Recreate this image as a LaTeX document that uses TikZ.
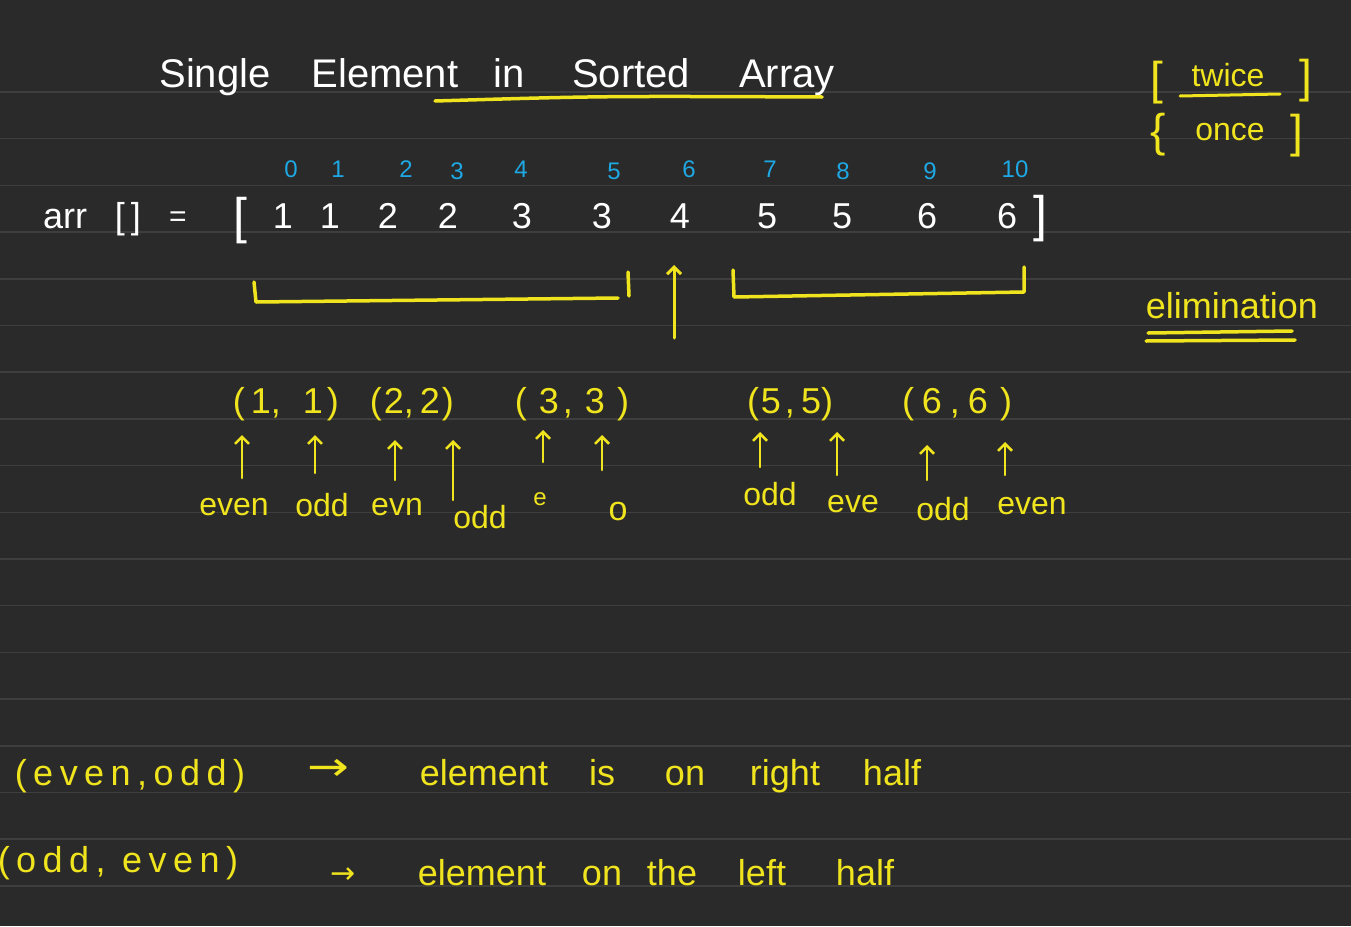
\documentclass[tikz,border=0pt]{standalone}
\usepackage{fontspec}
\setmainfont{Liberation Sans}
\newfontfamily\widefont[LetterSpace=18]{Liberation Sans}
\newfontfamily\arrowfont{DejaVu Sans}
\usetikzlibrary{arrows.meta}
\definecolor{bg}{RGB}{42,42,42}
\definecolor{ruleline}{RGB}{62,62,62}
\definecolor{hy}{RGB}{240,228,30}
\definecolor{hc}{RGB}{30,168,228}
\newcommand\fsz[1]{\fontsize{#1}{#1}\selectfont}
\tikzset{
  txt/.style={inner sep=0pt, anchor=base},
  wt/.style={txt, text=white},
  yt/.style={txt, text=hy},
  ct/.style={txt, text=hc, font=\fsz{24}},
  num/.style={wt, font=\fsz{36}},
  pen/.style={draw=hy, line width=3.5pt, line cap=round, line join=round},
  uparrow/.style={draw=hy, line width=3pt, line cap=round, -{Straight Barb[length=7pt,width=14pt]}},
}
\begin{document}
\begin{tikzpicture}[x=1pt,y=-1pt]
\fill[bg] (0,0) rectangle (1351,926);
\useasboundingbox (0,0) rectangle (1351,926);
\foreach \k in {0,...,17}
  \draw[ruleline, line width=1.5pt] (0,{92+46.7*\k}) -- (1351,{92+46.7*\k});

% title
\begin{scope}[every node/.style={wt, font=\fsz{40}}]
\node (t1) at (215,87) {Single};
\node (t2) at (385,87) {Element};
\node (t3) at (509,87) {in};
\node (t4) at (631,87) {Sorted};
\node (t5) at (787,87) {Array};
\end{scope}
\draw[pen] (435,101) .. controls (600,96) .. (822,97);

% twice / once
\node[yt, font=\fsz{46}] (b1) at (1157,94) {[};
\node[yt, font=\fsz{32}] (tw) at (1228,86) {twice};
\node[yt, font=\fsz{46}] (b2) at (1306,92) {]};
\draw[pen, line width=3pt] (1180,96) -- (1280,94);
\node[yt, font=\fsz{46}] (b3) at (1158,146) {\{};
\node[yt, font=\fsz{32}] (on) at (1230,140) {once};
\node[yt, font=\fsz{46}] (b4) at (1297,147) {]};

% elimination
\node[yt, font=\fsz{36}] (elim) at (1232,318) {elimination};
\draw[pen] (1148,333) -- (1292,331);
\draw[pen] (1146,341) -- (1295,340);

% arr row
\node[wt, font=\fsz{36}] (arr) at (65,228) {arr};
\node[wt, font=\fsz{36}] (brk) at (128,228) {[\,]};
\node[wt, font=\fsz{30}] (eq) at (178,226) {=};
\node[wt, font=\fsz{50}] (lb) at (240,233) {[};
\node[num] (v0) at (283,228) {1};
\node[num] (v1) at (330,228) {1};
\node[num] (v2) at (388,228) {2};
\node[num] (v3) at (448,228) {2};
\node[num] (v4) at (522,228) {3};
\node[num] (v5) at (602,228) {3};
\node[num] (v6) at (680,228) {4};
\node[num] (v7) at (767,228) {5};
\node[num] (v8) at (842,228) {5};
\node[num] (v9) at (927,228) {6};
\node[num] (v10) at (1007,228) {6};
\node[wt, font=\fsz{50}] (rb) at (1040,231) {]};

% indices
\node[ct] (i0) at (291,177) {0};
\node[ct] (i1) at (338,177) {1};
\node[ct] (i2) at (406,177) {2};
\node[ct] (i3) at (457,179) {3};
\node[ct] (i4) at (521,177) {4};
\node[ct] (i5) at (614,179) {5};
\node[ct] (i6) at (689,177) {6};
\node[ct] (i7) at (770,177) {7};
\node[ct] (i8) at (843,179) {8};
\node[ct] (i9) at (930,179) {9};
\node[ct] (i10) at (1015,177) {10};

% elimination brackets
\draw[pen] (254,282) -- (256,302) -- (618,298);
\draw[pen] (628,272) -- (629,296);
\coordinate (m0) at (674,338);
\coordinate (m1) at (674,265);
\draw[uparrow] (m0) -- (m1);
\draw[pen] (733,270) -- (734,297) -- (1024,292) -- (1024,267);

% pairs
\begin{scope}[every node/.style={yt, font=\fsz{36}}]
\node (p1) at (286,413) {(\hspace{6pt}1,\hspace{22pt}1\hspace{4pt})};
\node (p2) at (412,413) {(\hspace{2pt}2,\hspace{6pt}2\hspace{2pt})};
\node (p3) at (572,413) {(\hspace{12pt}3\hspace{4pt},\hspace{12pt}3\hspace{12pt})};
\node (p4) at (790,413) {(\hspace{2pt}5\hspace{4pt},\hspace{6pt}5)};
\node (p5) at (957,413) {(\hspace{8pt}6\hspace{8pt},\hspace{8pt}6\hspace{12pt})};
\end{scope}

% small arrows
\foreach \n/\x/\yb/\yt in {a1/242/478/435, a2/315/473/435, a3/395/480/440, a4/453/500/440, a5/543/462/430, a6/602/470/435, a7/760/467/432, a8/837/475/432, a9/927/480/445, a10/1005/475/442}{
  \coordinate (\n s) at (\x,\yb);
  \coordinate (\n e) at (\x,\yt);
  \draw[uparrow, line width=2.5pt] (\n s) -- (\n e);
}

% parity labels
\begin{scope}[every node/.style={yt, font=\fsz{32}}]
\node (l1) at (234,515) {even};
\node (l2) at (322,516) {odd};
\node (l3) at (397,515) {evn};
\node (l4) at (480,528) {odd};
\node[font=\fsz{24}] (l5) at (540,505) {e};
\node[font=\fsz{34}] (l6) at (618,520) {o};
\node (l7) at (770,505) {odd};
\node (l8) at (853,512) {eve};
\node (l9) at (943,520) {odd};
\node (l10) at (1032,514) {even};
\end{scope}

% rules at bottom
\node[yt, font=\fsz{36}\widefont] (r1) at (130,785) {(even,odd)};
\node[yt, font=\fsz{40}\arrowfont, anchor=center] (ar1) at (328,770) {\scalebox{1.25}[1]{→}};
\begin{scope}[every node/.style={yt, font=\fsz{36}}]
\node (w1) at (484,785) {element};
\node (w2) at (602,785) {is};
\node (w3) at (685,785) {on};
\node (w4) at (785,785) {right};
\node (w5) at (892,785) {half};
\end{scope}

\node[yt, font=\fsz{36}\widefont] (r2) at (118,872) {(odd, even)};
\node[yt, font=\fsz{30}\arrowfont, anchor=center] (ar2) at (343,876) {→};
\begin{scope}[every node/.style={yt, font=\fsz{36}}]
\node (x1) at (482,885) {element};
\node (x2) at (602,885) {on};
\node (x3) at (672,885) {the};
\node (x4) at (762,885) {left};
\node (x5) at (865,885) {half};
\end{scope}
\end{tikzpicture}
\end{document}
